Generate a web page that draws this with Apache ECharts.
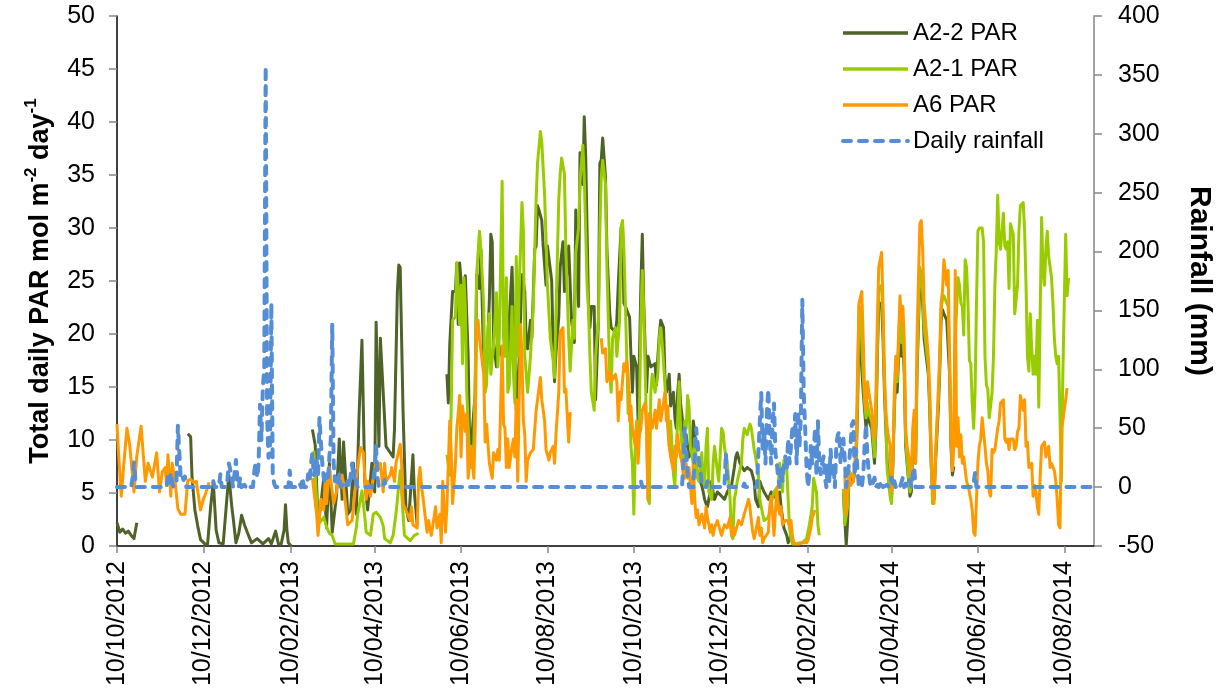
<!DOCTYPE html>
<html>
<head>
<meta charset="utf-8">
<script src="https://cdn.jsdelivr.net/npm/echarts@6/dist/echarts.min.js"></script>
<style>
html,body{margin:0;padding:0;background:#fff}
#chart{width:1223px;height:692px}
</style>
</head>
<body>
<div id="chart"></div>
<script>
// Daily series: each entry is [days since 10/10/2012, value]; null marks a logging gap.
const tickLabels = ['10/10/2012','10/12/2012','10/02/2013','10/04/2013','10/06/2013','10/08/2013',
  '10/10/2013','10/12/2013','10/02/2014','10/04/2014','10/06/2014','10/08/2014'];
const lastDay = 690; // 31/08/2014

// A2-2 PAR (mol m-2 day-1)
const a22 = [[0,2.2],[2,1.3],[4,1.6],[6,1.2],[8,1.4],[10,1.0],[12,0.7],[14,2.2],[30,null],
[50,10.6],[52,10.3],[53,6.5],[55,3.4],[57,1.9],[59,0.6],[62,0.2],[64,0.2],[66,3.5],[68,6.1],[70,1.5],[72,0.3],[75,0.2],[77,3.5],[79,6.7],[81,3.8],[82,2.7],[84,0.3],[86,1.2],[88,2.9],[90,2.0],[92,1.3],[95,0.3],[99,0.7],[103,0.2],[107,0.7],[109,0.2],[112,1.4],[114,0.2],[116,0.2],[118,1.5],[119,3.9],[120,1.5],[121,0.3],[123,0],[130,null],
[138,11.0],[140,9.5],[142,2.0],[144,4.0],[146,6.4],[148,1.7],[150,7.8],[152,1.3],[155,4.7],[157,10.1],[159,4.4],[160,9.8],[163,3.0],[165,3.4],[167,7.8],[169,3.0],[171,12.5],[173,19.4],[175,6.1],[177,3.4],[180,7.8],[182,5.1],[183,21.1],[185,9.4],[186,19.6],[188,14.5],[190,9.4],[193,8.8],[195,8.4],[196,11.1],[198,24.0],[199,26.5],[200,26.3],[202,12.8],[204,3.7],[206,2.4],[209,8.6],[210,5.1],[212,2.0],[220,null],
[233,16.2],[234,13.5],[235,19.0],[237,24.0],[239,24.0],[240,26.7],[241,20.9],[242,26.7],[243,25.0],[244,22.3],[246,25.5],[248,17.9],[249,10.1],[250,9.1],[253,14.5],[254,25.6],[256,24.3],[257,28.0],[259,17.2],[261,16.2],[263,23.3],[264,29.4],[265,28.7],[266,19.2],[268,16.9],[269,19.2],[270,19.2],[272,17.9],[273,18.8],[275,18.6],[276,17.5],[277,21.3],[279,26.3],[280,21.3],[281,17.9],[282,12.8],[284,17.5],[286,25.6],[288,24.0],[289,19.2],[290,18.6],[292,21.3],[293,19.6],[295,28.0],[296,28.3],[297,32.1],[298,31.7],[300,30.7],[301,28.3],[303,24.6],[304,28.3],[307,25.0],[308,18.9],[309,15.5],[310,18.2],[312,21.6],[313,26.3],[315,28.7],[316,24.0],[318,26.0],[319,28.3],[321,21.3],[323,19.2],[324,31.7],[326,22.6],[327,37.1],[329,34.1],[330,40.5],[331,36.8],[333,22.6],[334,20.6],[335,22.6],[337,22.6],[338,13.8],[340,21.3],[341,36.1],[342,36.4],[343,38.5],[345,34.8],[346,28.0],[348,21.9],[349,20.6],[350,20.6],[352,20.2],[353,21.3],[354,24.6],[356,30.0],[357,30.4],[358,22.9],[360,22.3],[361,21.9],[362,21.6],[363,17.9],[364,14.5],[365,17.9],[367,16.9],[368,11.8],[369,17.9],[370,24.6],[371,29.4],[372,22.9],[374,14.5],[375,17.9],[376,17.9],[377,16.9],[378,16.9],[380,17.2],[381,15.2],[382,17.9],[383,19.9],[384,21.3],[386,20.6],[387,15.9],[388,14.5],[389,15.2],[390,16.2],[391,13.2],[393,14.5],[394,12.1],[395,11.1],[396,14.5],[397,16.2],[398,13.5],[400,11.1],[401,9.4],[402,10.5],[403,9.4],[404,8.4],[406,8.8],[407,11.8],[408,10.8],[409,7.8],[410,6.7],[411,6.4],[413,5.7],[414,5.1],[415,4.4],[416,4.0],[417,3.7],[418,4.4],[420,6.1],[421,5.1],[422,4.4],[424,5.1],[427,4.7],[429,4.4],[431,5.1],[434,5.7],[436,7.4],[437,8.4],[438,8.8],[440,7.8],[441,7.8],[443,7.1],[445,7.4],[448,7.1],[450,6.1],[451,4.4],[453,3.7],[454,6.1],[455,5.7],[456,5.4],[457,5.1],[460,4.4],[462,5.1],[464,4.7],[467,4.4],[468,5.1],[469,3.7],[470,2.7],[471,1.7],[473,1.0],[474,0.3],[476,1.0],[490,null],
[513,5.1],[515,0],[516,2.4],[517,6.7],[520,6.1],[522,7.8],[523,12.8],[524,21.3],[525,21.3],[527,14.5],[528,12.8],[529,11.1],[530,12.8],[531,11.8],[533,11.1],[534,9.4],[535,7.8],[536,11.1],[537,17.9],[538,22.9],[540,22.9],[541,19.6],[542,14.5],[543,11.1],[544,7.8],[546,5.1],[547,4.4],[548,7.8],[549,12.8],[550,16.2],[551,14.5],[553,21.3],[554,17.9],[555,19.6],[556,16.2],[557,9.4],[558,7.8],[560,4.7],[561,5.1],[562,9.4],[563,11.1],[564,7.8],[565,16.2],[567,25.3],[568,24.6],[569,22.9],[570,19.6],[573,16.2],[574,12.8],[575,7.8],[576,5.1],[577,4.4],[578,7.8],[580,12.8],[581,16.2],[582,21.3],[583,22.3],[584,21.9],[586,21.3],[587,21.3],[588,16.2],[589,9.4],[590,6.7],[591,7.5]];

// A2-1 PAR (mol m-2 day-1)
const a21 = [[139,9.0],[142,2.0],[146,2.7],[148,1.8],[150,1.2],[152,1.0],[154,0.2],[160,0.2],[167,0.2],[169,1.7],[170,3.0],[173,5.2],[175,2.7],[176,1.3],[179,1.0],[181,3.0],[183,3.2],[186,2.7],[188,1.9],[189,0.7],[193,0.3],[195,1.0],[197,3.0],[200,7.1],[201,5.1],[203,1.0],[207,0.5],[210,1.0],[213,1.2],[222,null],
[233,8.6],[235,6.7],[236,12.8],[237,21.3],[239,21.6],[240,26.7],[242,20.9],[243,24.6],[244,17.2],[245,25.3],[246,22.6],[247,14.5],[249,8.4],[250,7.4],[252,9.4],[253,16.2],[254,25.6],[256,29.7],[257,28.0],[259,22.6],[260,14.5],[261,15.2],[262,20.6],[263,21.9],[264,16.2],[266,18.9],[268,23.9],[269,16.9],[270,19.6],[272,34.4],[273,19.6],[274,17.9],[275,25.3],[276,14.5],[277,15.2],[279,22.6],[280,16.2],[281,13.5],[282,27.3],[283,17.9],[284,24.0],[286,32.4],[287,29.7],[288,17.9],[290,14.5],[291,14.5],[292,17.9],[294,22.6],[296,32.7],[297,36.1],[299,39.1],[300,38.1],[302,33.1],[304,24.6],[306,19.6],[308,17.5],[309,15.9],[310,21.9],[312,32.7],[313,35.1],[314,36.6],[316,35.1],[317,28.0],[319,19.6],[320,16.5],[322,21.3],[323,19.6],[324,27.7],[326,30.0],[327,34.4],[328,36.1],[329,37.8],[330,34.8],[332,24.6],[333,22.3],[334,17.9],[335,14.5],[337,12.8],[338,17.9],[340,21.3],[341,29.7],[342,34.8],[343,36.4],[345,34.1],[346,26.3],[347,21.3],[348,16.2],[349,14.5],[350,19.6],[352,20.6],[353,17.9],[354,19.6],[355,21.3],[356,30.0],[357,30.7],[358,28.0],[360,17.9],[361,12.5],[362,14.5],[363,9.4],[364,7.8],[365,3.0],[366,9.1],[367,11.1],[368,9.4],[369,12.8],[370,21.3],[371,26.0],[372,22.3],[374,11.1],[375,4.4],[376,4.0],[377,14.5],[378,16.2],[380,14.5],[382,16.2],[383,19.6],[384,20.6],[385,19.2],[387,15.2],[388,12.8],[389,11.1],[390,9.4],[391,11.8],[393,6.7],[394,5.7],[395,9.4],[396,11.8],[397,15.5],[398,11.1],[400,7.8],[401,11.8],[402,11.1],[403,14.2],[404,13.2],[405,9.4],[407,7.8],[408,10.1],[409,7.8],[410,6.4],[411,6.1],[413,8.8],[414,6.1],[415,5.7],[416,9.4],[417,11.1],[418,5.1],[420,4.4],[421,7.8],[422,9.4],[424,7.1],[425,6.1],[427,11.1],[428,10.8],[429,9.4],[430,8.4],[431,7.8],[433,4.4],[434,1.0],[435,0.7],[436,4.4],[437,5.1],[438,6.1],[441,7.8],[442,10.1],[443,11.1],[444,10.8],[445,10.5],[447,11.5],[448,11.1],[449,11.1],[450,9.1],[451,8.4],[453,6.7],[454,4.4],[455,3.7],[456,3.0],[457,2.4],[460,2.7],[462,4.0],[464,5.1],[467,5.7],[468,7.8],[469,6.1],[470,5.1],[471,8.1],[472,7.8],[473,7.4],[474,4.4],[475,1.7],[476,0.7],[477,0.2],[480,0.2],[482,0.3],[484,0.3],[487,0.7],[489,2.0],[491,3.7],[492,6.4],[494,5.1],[495,2.0],[496,1.0],[505,null],
[513,5.4],[514,2.0],[516,3.7],[517,7.1],[520,6.4],[522,8.1],[523,14.2],[524,22.6],[525,22.3],[527,16.2],[528,13.5],[529,12.1],[530,13.5],[531,12.5],[533,11.8],[534,10.1],[535,8.4],[536,12.1],[537,19.2],[538,24.3],[540,24.6],[541,21.3],[542,15.5],[543,11.8],[544,7.1],[546,4.7],[547,4.0],[548,8.4],[549,13.5],[550,17.2],[551,15.5],[553,22.6],[554,19.2],[555,20.9],[556,17.2],[557,10.1],[558,8.1],[560,5.1],[561,5.7],[562,10.1],[563,12.1],[564,8.4],[565,17.2],[567,26.3],[568,25.6],[569,23.9],[570,20.6],[573,16.9],[574,13.5],[575,8.1],[576,4.0],[577,4.7],[578,8.8],[580,13.8],[581,17.2],[582,22.3],[583,23.3],[584,23.6],[586,22.9],[587,22.6],[588,17.5],[589,10.1],[590,7.4],[591,10.8],[592,19.6],[594,25.3],[595,24.6],[596,22.9],[597,22.6],[598,19.9],[599,27.0],[600,26.3],[601,22.9],[602,17.5],[603,17.2],[604,13.5],[605,11.1],[606,14.5],[607,22.9],[608,29.7],[609,30.0],[611,30.0],[612,28.7],[613,17.9],[614,15.2],[615,14.8],[616,12.1],[617,13.2],[618,14.5],[619,17.9],[620,24.6],[621,28.0],[622,33.1],[623,28.7],[624,28.0],[626,31.4],[627,28.3],[628,28.0],[629,28.7],[630,24.3],[631,30.4],[633,29.4],[634,21.9],[636,24.6],[637,29.7],[638,32.1],[640,32.4],[641,29.7],[642,24.6],[643,17.9],[644,16.5],[645,21.9],[646,18.6],[647,16.2],[648,17.9],[649,16.2],[650,21.3],[651,13.1],[653,31.0],[654,26.0],[655,24.6],[656,28.0],[657,29.7],[658,27.3],[660,25.3],[661,22.9],[662,19.6],[663,17.9],[664,17.2],[665,17.9],[667,6.1],[668,16.2],[669,22.9],[670,29.4],[671,23.6],[672,25.3]];

// A6 PAR (mol m-2 day-1)
const a6 = [[0,11.5],[1,9.0],[3,4.7],[5,8.0],[7,11.1],[9,9.5],[12,5.1],[14,8.5],[17,11.3],[20,6.1],[22,7.8],[25,6.5],[28,8.8],[30,5.1],[32,7.0],[34,7.4],[35,5.7],[36,8.6],[38,4.7],[39,7.8],[41,6.1],[43,3.5],[45,3.0],[48,3.0],[50,6.2],[52,6.3],[54,6.0],[56,6.1],[59,3.4],[61,4.4],[63,5.1],[65,6.0],[80,null],
[138,6.4],[141,3.0],[142,1.0],[143,1.0],[144,4.4],[146,3.4],[147,6.1],[148,4.0],[150,7.4],[153,4.0],[155,5.1],[156,6.1],[159,6.7],[161,4.4],[163,2.0],[166,2.4],[168,5.1],[170,7.4],[172,9.3],[174,8.8],[176,4.4],[177,6.1],[179,4.7],[181,6.4],[183,8.1],[184,7.1],[186,7.8],[188,5.1],[189,7.8],[190,6.1],[193,6.7],[194,7.4],[196,6.1],[197,7.8],[200,9.6],[201,7.8],[202,4.0],[204,3.4],[207,2.4],[208,3.7],[209,2.0],[212,1.7],[213,6.2],[214,7.4],[215,5.7],[216,4.7],[219,1.3],[220,2.4],[222,1.0],[225,3.7],[226,1.7],[228,3.0],[229,0.3],[230,6.1],[232,1.3],[233,3.7],[235,11.8],[236,9.1],[237,4.0],[239,7.8],[240,11.1],[241,12.5],[242,14.2],[243,8.4],[244,13.2],[246,10.8],[247,12.5],[248,6.4],[249,6.4],[250,9.4],[252,6.4],[253,11.1],[254,20.6],[255,21.3],[256,19.6],[257,19.6],[259,16.2],[260,9.8],[261,11.5],[262,11.5],[263,7.8],[265,6.4],[266,8.8],[267,8.8],[268,8.1],[269,9.1],[270,8.1],[272,18.9],[273,11.5],[274,11.1],[275,7.4],[276,10.1],[277,7.4],[279,9.4],[280,10.1],[281,8.4],[282,13.8],[283,6.1],[285,20.9],[286,17.9],[287,11.8],[288,10.5],[289,6.1],[290,8.1],[292,8.8],[294,9.1],[296,12.8],[297,13.8],[299,15.9],[300,13.8],[301,13.8],[302,11.8],[303,9.1],[305,8.1],[306,8.8],[308,9.4],[309,7.8],[310,10.5],[312,14.5],[313,20.2],[315,20.6],[316,14.5],[317,14.8],[319,9.8],[320,12.5],[321,12.5],[330,null],
[342,19.6],[343,18.2],[345,18.6],[346,15.5],[347,15.9],[348,16.5],[349,15.5],[352,16.2],[353,15.5],[354,11.8],[355,14.5],[356,13.8],[358,17.2],[359,16.5],[360,17.5],[361,16.2],[362,11.8],[363,13.2],[364,11.1],[366,9.4],[367,11.8],[368,7.8],[369,10.5],[370,11.1],[371,12.8],[373,13.5],[374,11.1],[375,4.4],[376,12.5],[377,11.8],[378,11.1],[380,12.8],[381,11.1],[382,12.5],[383,13.8],[384,11.8],[386,13.5],[387,14.5],[388,11.8],[389,13.2],[390,9.4],[391,8.4],[393,7.1],[394,9.4],[395,8.4],[396,10.5],[397,9.1],[399,7.8],[400,6.7],[401,6.4],[402,7.8],[403,6.4],[404,7.4],[406,4.0],[407,7.8],[408,4.4],[409,2.7],[410,3.4],[411,2.0],[413,3.0],[415,1.7],[416,3.7],[417,2.7],[419,1.3],[420,2.0],[421,1.0],[422,1.7],[424,2.4],[427,1.0],[429,2.0],[431,1.7],[433,2.7],[434,1.0],[435,1.7],[436,1.0],[439,2.4],[441,2.0],[443,3.0],[446,4.4],[447,3.7],[448,2.4],[449,1.3],[450,0.7],[451,1.3],[453,2.7],[454,1.0],[455,1.7],[456,0.3],[457,0.7],[460,1.3],[461,3.7],[462,4.7],[463,3.0],[464,1.0],[466,5.4],[467,3.7],[468,3.0],[469,3.7],[470,2.0],[472,2.4],[474,2.4],[475,1.7],[476,2.4],[477,1.0],[478,0.3],[480,0.2],[482,0.2],[484,0.3],[487,0.3],[488,0.5],[490,1.7],[491,2.7],[493,3.4],[503,null],
[514,6.7],[515,3.0],[516,5.1],[517,7.1],[518,5.7],[520,6.1],[521,7.8],[522,9.4],[523,16.2],[524,22.9],[526,24.0],[527,19.6],[528,14.5],[529,12.8],[530,15.5],[531,14.5],[533,12.8],[534,11.1],[535,10.1],[536,14.5],[537,21.3],[538,26.3],[540,27.7],[541,22.9],[542,16.2],[543,12.8],[544,11.1],[546,9.4],[547,5.1],[548,8.4],[549,14.5],[550,17.9],[551,16.2],[553,23.6],[554,21.3],[555,22.6],[556,19.6],[557,11.1],[558,9.4],[560,7.8],[561,5.7],[562,11.1],[563,12.8],[564,7.8],[565,19.6],[567,30.4],[568,30.7],[569,28.0],[570,22.9],[573,17.9],[574,14.5],[575,9.4],[576,5.7],[577,4.0],[578,7.8],[580,14.5],[581,17.9],[582,22.9],[583,24.0],[584,27.0],[586,24.6],[587,26.0],[588,17.9],[589,11.1],[590,7.1],[591,9.4],[592,26.0],[593,9.4],[594,12.1],[595,8.4],[596,10.5],[597,7.8],[598,8.4],[600,6.1],[601,5.7],[602,5.1],[603,4.4],[604,3.4],[605,1.3],[606,1.0],[607,4.4],[608,7.8],[609,9.4],[610,10.1],[611,12.1],[613,9.4],[614,7.8],[615,7.1],[616,5.1],[617,4.7],[618,9.1],[619,8.8],[620,9.1],[621,9.1],[622,11.1],[623,11.8],[624,13.5],[626,13.8],[627,10.1],[628,9.8],[629,10.1],[630,9.1],[631,10.1],[633,10.1],[634,9.1],[635,9.4],[636,10.8],[637,11.1],[638,14.2],[640,12.8],[641,13.8],[642,9.4],[643,9.8],[644,7.4],[646,7.8],[647,4.7],[648,5.7],[649,5.1],[650,3.7],[651,3.0],[652,6.7],[653,9.4],[655,9.8],[656,8.4],[657,9.1],[658,9.4],[659,7.4],[660,7.8],[662,7.1],[663,6.1],[664,4.4],[665,2.0],[666,1.7],[667,11.1],[668,11.8],[669,12.8],[670,13.8],[671,14.9]];

// Daily rainfall (mm)
const rain = [[0,0],[10,0],[11,8],[12,21],[13,5],[14,0],[35,0],[36,10],[37,4],[38,12],[39,3],[40,0],[42,5],[43,52],[44,30],[45,8],[46,10],[47,6],[48,9],[49,0],[67,0],[68,5],[69,0],[72,0],[73,11],[74,0],[77,0],[78,6],[79,20],[80,15],[81,8],[82,0],[83,0],[84,23],[85,8],[86,0],[87,8],[88,0],[90,2],[91,0],[92,2],[93,0],[96,0],[97,14],[98,21],[99,8],[100,20],[101,70],[102,40],[103,85],[104,100],[105,357],[106,60],[107,25],[108,30],[109,156],[110,10],[111,3],[112,0],[121,0],[122,14],[123,0],[128,0],[129,3],[130,0],[131,8],[132,0],[134,0],[135,11],[136,5],[137,20],[138,29],[139,10],[140,15],[141,23],[142,10],[143,59],[144,38],[145,20],[146,8],[147,3],[148,11],[149,5],[150,26],[151,40],[152,138],[153,20],[154,5],[155,8],[156,3],[157,11],[158,0],[160,3],[161,0],[163,5],[164,0],[165,10],[166,20],[167,8],[168,14],[169,3],[170,0],[180,0],[181,6],[182,15],[183,35],[184,8],[185,0],[188,0],[189,6],[190,0],[369,0],[370,5],[371,0],[399,0],[400,20],[401,50],[402,32],[403,11],[404,0],[407,0],[408,25],[409,50],[410,38],[411,23],[412,14],[413,3],[414,0],[416,0],[417,5],[418,0],[429,0],[430,29],[431,8],[432,0],[442,0],[443,3],[444,0],[452,0],[453,30],[454,56],[455,80],[456,32],[457,50],[458,20],[459,65],[460,83],[461,40],[462,20],[463,56],[464,71],[465,29],[466,20],[467,8],[468,0],[469,17],[470,5],[471,20],[472,26],[473,15],[474,41],[475,20],[476,35],[477,50],[478,44],[479,62],[480,20],[481,65],[482,35],[483,62],[484,159],[485,80],[486,50],[487,17],[488,0],[489,11],[490,35],[491,20],[492,29],[493,50],[494,10],[495,56],[496,20],[497,11],[498,20],[499,26],[500,8],[501,0],[502,20],[503,5],[504,32],[505,8],[506,20],[507,0],[508,35],[509,44],[510,47],[511,20],[512,32],[513,41],[514,23],[515,0],[516,11],[517,20],[518,35],[519,53],[520,56],[521,10],[522,32],[523,14],[524,0],[525,8],[526,0],[527,10],[528,35],[529,53],[530,26],[531,11],[532,3],[533,0],[535,8],[536,0],[537,2],[538,0],[540,5],[541,0],[544,2],[545,0],[547,8],[548,0],[549,5],[550,0],[552,2],[553,0],[555,8],[556,0],[557,3],[558,0],[560,6],[561,0],[562,11],[563,17],[564,0],[604,0],[605,4],[606,12],[607,0],[690,0]];

const FONT = '"Liberation Sans", Arial, sans-serif';
const DAY_MS = 86400000;
const day0 = Date.UTC(2012, 9, 10);

// Axis ticks sit on the labelled dates, expressed as day offsets.
function labelToDay(s) {
  const p = s.split('/');
  return Math.round((Date.UTC(+p[2], +p[1] - 1, +p[0]) - day0) / DAY_MS);
}
const tickDays = tickLabels.map(labelToDay);
function dayLabel(d) {
  const i = tickDays.indexOf(Math.round(d));
  if (i >= 0) return tickLabels[i];
  const dt = new Date(day0 + d * DAY_MS);
  const p = n => String(n).padStart(2, '0');
  return p(dt.getUTCDate()) + '/' + p(dt.getUTCMonth() + 1) + '/' + dt.getUTCFullYear();
}
function toSeries(list) { return list.map(([d, v]) => [d, v === null ? '-' : v]); }

const chart = echarts.init(document.getElementById('chart'), null, { renderer: 'canvas' });

const lineSeries = (name, list, color, axis, extra) => Object.assign({
  name, type: 'line', yAxisIndex: axis, data: toSeries(list),
  symbol: 'none', showSymbol: false, connectNulls: false, animation: false,
  lineStyle: { color, width: 3, join: 'round' }, itemStyle: { color }
}, extra || {});

chart.setOption({
  animation: false,
  backgroundColor: '#ffffff',
  grid: { left: 117, right: 129, top: 16, bottom: 146, containLabel: false },
  legend: {
    orient: 'vertical', left: 836, top: 16,
    itemWidth: 65, itemHeight: 14, itemGap: 12,
    itemStyle: { opacity: 0 },
    lineStyle: { width: 3.5 },
    textStyle: { fontSize: 24, color: '#000', fontFamily: FONT },
    data: ['A2-2 PAR', 'A2-1 PAR', 'A6 PAR',
      { name: 'Daily rainfall', lineStyle: { width: 4 } }]
  },
  xAxis: {
    type: 'value', min: 0, max: lastDay,
    axisLine: { onZero: false, lineStyle: { color: '#000', width: 1.5 } },
    axisTick: { show: true, customValues: tickDays, length: 7, lineStyle: { color: '#868686', width: 1.5 } },
    axisLabel: { customValues: tickDays, formatter: dayLabel, rotate: 90, margin: 15,
      fontSize: 25, color: '#000', fontFamily: FONT },
    splitLine: { show: false }
  },
  yAxis: [{
    type: 'value', min: 0, max: 50, interval: 5, position: 'left',
    axisLine: { show: true, lineStyle: { color: '#000', width: 1.5 } },
    axisTick: { show: true, length: 8, lineStyle: { color: '#868686', width: 1.5 } },
    axisLabel: { fontSize: 25, color: '#000', margin: 22, fontFamily: FONT },
    splitLine: { show: false },
    name: '{b|Total daily PAR mol m}{s|-2}{b| day}{s|-1}',
    nameLocation: 'middle', nameRotate: 90, nameGap: 63,
    nameTextStyle: {
      rich: {
        b: { fontSize: 27, fontWeight: 'bold', color: '#000', fontFamily: FONT, lineHeight: 31, verticalAlign: 'bottom' },
        s: { fontSize: 17, fontWeight: 'bold', color: '#000', fontFamily: FONT, lineHeight: 31, verticalAlign: 'top' }
      }
    }
  }, {
    type: 'value', min: -50, max: 400, interval: 50, position: 'right',
    axisLine: { show: true, lineStyle: { color: '#868686', width: 1.5 } },
    axisTick: { show: true, length: 8, lineStyle: { color: '#868686', width: 1.5 } },
    axisLabel: { fontSize: 25, color: '#000', margin: 24, fontFamily: FONT },
    splitLine: { show: false },
    name: 'Rainfall (mm)', nameLocation: 'middle', nameRotate: -90, nameGap: 90,
    nameTextStyle: { fontSize: 30, fontWeight: 'bold', color: '#000', fontFamily: FONT }
  }],
  series: [
    lineSeries('A2-2 PAR', a22, '#4F6228', 0),
    lineSeries('A2-1 PAR', a21, '#99CC00', 0),
    lineSeries('A6 PAR', a6, '#FF9900', 0),
    lineSeries('Daily rainfall', rain, '#558ED5', 1, {
      lineStyle: { color: '#558ED5', width: 4, type: [8, 8], cap: 'round', join: 'round' }
    })
  ]
});
</script>
</body>
</html>
